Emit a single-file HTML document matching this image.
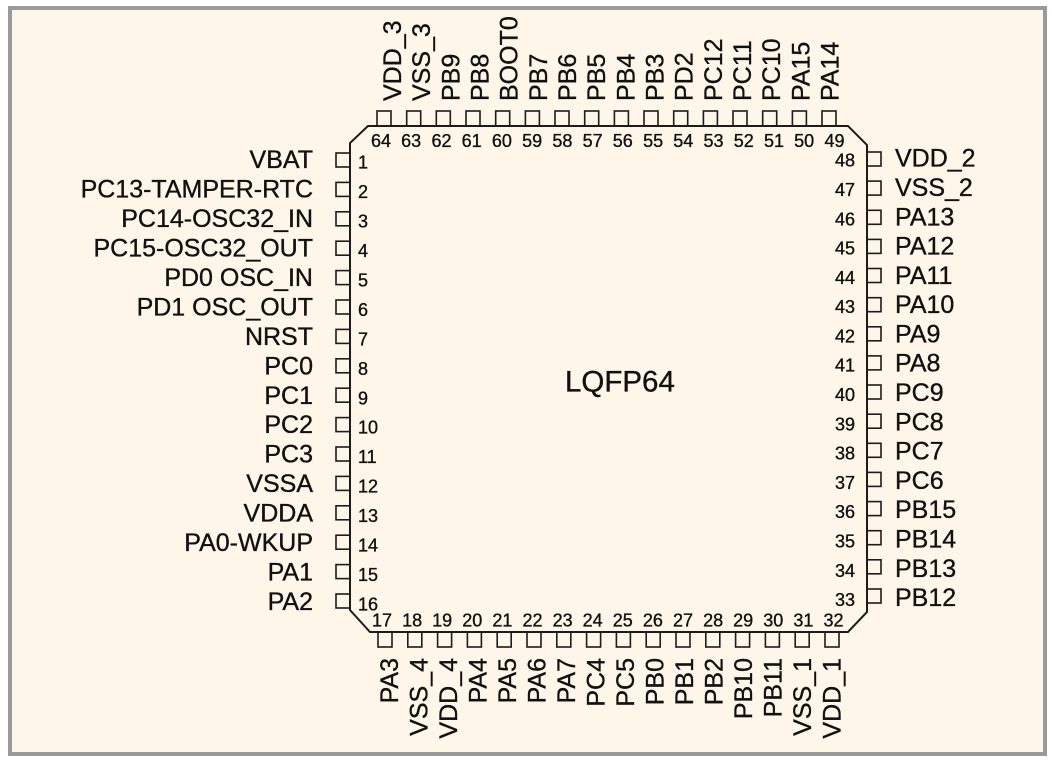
<!DOCTYPE html>
<html><head><meta charset="utf-8"><style>
html,body{margin:0;padding:0;background:#fff;}
svg{display:block;}
text{font-family:"Liberation Sans",Arial,sans-serif;fill:#111;stroke:#111;stroke-width:0.35px;}
.l{font-size:25px;}
.n{font-size:18px;}
</style></head><body>
<svg width="1052" height="764" viewBox="0 0 1052 764" xmlns="http://www.w3.org/2000/svg">
<rect x="0" y="0" width="1052" height="764" fill="#ffffff"/>
<rect x="10" y="8" width="1035" height="746" fill="#fdf6e9" stroke="#9a9a9a" stroke-width="4"/>
<polygon points="368,126 848,126 867,145 867,612 848,632 370,632 350,610 350,143" fill="none" stroke="#1c1c1c" stroke-width="2"/>
<g fill="none" stroke="#1c1c1c" stroke-width="1.6">
<rect x="377" y="111" width="14" height="15"/><rect x="406.7" y="111" width="14" height="15"/><rect x="436.3" y="111" width="14" height="15"/><rect x="466" y="111" width="14" height="15"/><rect x="495.7" y="111" width="14" height="15"/><rect x="525.4" y="111" width="14" height="15"/><rect x="555" y="111" width="14" height="15"/><rect x="584.7" y="111" width="14" height="15"/><rect x="614.4" y="111" width="14" height="15"/><rect x="644" y="111" width="14" height="15"/><rect x="673.7" y="111" width="14" height="15"/><rect x="703.4" y="111" width="14" height="15"/><rect x="733" y="111" width="14" height="15"/><rect x="762.7" y="111" width="14" height="15"/><rect x="792.4" y="111" width="14" height="15"/><rect x="822" y="111" width="14" height="15"/>
<rect x="378" y="632" width="14" height="15"/><rect x="407.8" y="632" width="14" height="15"/><rect x="437.6" y="632" width="14" height="15"/><rect x="467.4" y="632" width="14" height="15"/><rect x="497.2" y="632" width="14" height="15"/><rect x="527" y="632" width="14" height="15"/><rect x="556.8" y="632" width="14" height="15"/><rect x="586.6" y="632" width="14" height="15"/><rect x="616.4" y="632" width="14" height="15"/><rect x="646.2" y="632" width="14" height="15"/><rect x="676" y="632" width="14" height="15"/><rect x="705.8" y="632" width="14" height="15"/><rect x="735.6" y="632" width="14" height="15"/><rect x="765.4" y="632" width="14" height="15"/><rect x="795.2" y="632" width="14" height="15"/><rect x="825" y="632" width="14" height="15"/>
<rect x="336" y="153" width="14" height="14"/><rect x="336" y="182.4" width="14" height="14"/><rect x="336" y="211.8" width="14" height="14"/><rect x="336" y="241.2" width="14" height="14"/><rect x="336" y="270.6" width="14" height="14"/><rect x="336" y="300" width="14" height="14"/><rect x="336" y="329.4" width="14" height="14"/><rect x="336" y="358.8" width="14" height="14"/><rect x="336" y="388.2" width="14" height="14"/><rect x="336" y="417.6" width="14" height="14"/><rect x="336" y="447" width="14" height="14"/><rect x="336" y="476.4" width="14" height="14"/><rect x="336" y="505.8" width="14" height="14"/><rect x="336" y="535.2" width="14" height="14"/><rect x="336" y="564.6" width="14" height="14"/><rect x="336" y="594" width="14" height="14"/>
<rect x="867" y="152" width="14" height="14"/><rect x="867" y="181.1" width="14" height="14"/><rect x="867" y="210.3" width="14" height="14"/><rect x="867" y="239.4" width="14" height="14"/><rect x="867" y="268.5" width="14" height="14"/><rect x="867" y="297.7" width="14" height="14"/><rect x="867" y="326.8" width="14" height="14"/><rect x="867" y="355.9" width="14" height="14"/><rect x="867" y="385" width="14" height="14"/><rect x="867" y="414.2" width="14" height="14"/><rect x="867" y="443.3" width="14" height="14"/><rect x="867" y="472.4" width="14" height="14"/><rect x="867" y="501.6" width="14" height="14"/><rect x="867" y="530.7" width="14" height="14"/><rect x="867" y="559.8" width="14" height="14"/><rect x="867" y="589" width="14" height="14"/>
</g>

<g class="l">
<text transform="translate(401,101) rotate(-90)">VDD_3</text>
<text transform="translate(430.2,101) rotate(-90)">VSS_3</text>
<text transform="translate(459.3,101) rotate(-90)">PB9</text>
<text transform="translate(488.5,101) rotate(-90)">PB8</text>
<text transform="translate(517.7,101) rotate(-90)">BOOT0</text>
<text transform="translate(546.9,101) rotate(-90)">PB7</text>
<text transform="translate(576,101) rotate(-90)">PB6</text>
<text transform="translate(605.2,101) rotate(-90)">PB5</text>
<text transform="translate(634.4,101) rotate(-90)">PB4</text>
<text transform="translate(663.5,101) rotate(-90)">PB3</text>
<text transform="translate(692.7,101) rotate(-90)">PD2</text>
<text transform="translate(721.9,101) rotate(-90)">PC12</text>
<text transform="translate(751,101) rotate(-90)">PC11</text>
<text transform="translate(780.2,101) rotate(-90)">PC10</text>
<text transform="translate(809.4,101) rotate(-90)">PA15</text>
<text transform="translate(838.6,101) rotate(-90)">PA14</text>
</g>
<g class="n" text-anchor="middle">
<text x="381" y="147">64</text><text x="411.2" y="147">63</text><text x="441.5" y="147">62</text><text x="471.7" y="147">61</text><text x="501.9" y="147">60</text><text x="532.2" y="147">59</text><text x="562.4" y="147">58</text><text x="592.6" y="147">57</text><text x="622.8" y="147">56</text><text x="653.1" y="147">55</text><text x="683.3" y="147">54</text><text x="713.5" y="147">53</text><text x="743.8" y="147">52</text><text x="774" y="147">51</text><text x="804.2" y="147">50</text><text x="834.5" y="147">49</text>
</g>

<g class="l" text-anchor="end">
<text transform="translate(398,658) rotate(-90)">PA3</text>
<text transform="translate(427.5,658) rotate(-90)">VSS_4</text>
<text transform="translate(457,658) rotate(-90)">VDD_4</text>
<text transform="translate(486.5,658) rotate(-90)">PA4</text>
<text transform="translate(516,658) rotate(-90)">PA5</text>
<text transform="translate(545.5,658) rotate(-90)">PA6</text>
<text transform="translate(575,658) rotate(-90)">PA7</text>
<text transform="translate(604.5,658) rotate(-90)">PC4</text>
<text transform="translate(634,658) rotate(-90)">PC5</text>
<text transform="translate(663.5,658) rotate(-90)">PB0</text>
<text transform="translate(693,658) rotate(-90)">PB1</text>
<text transform="translate(722.5,658) rotate(-90)">PB2</text>
<text transform="translate(752,658) rotate(-90)">PB10</text>
<text transform="translate(781.5,658) rotate(-90)">PB11</text>
<text transform="translate(811,658) rotate(-90)">VSS_1</text>
<text transform="translate(840.5,658) rotate(-90)">VDD_1</text>
</g>
<g class="n" text-anchor="middle">
<text x="382" y="626.5">17</text><text x="412.1" y="626.5">18</text><text x="442.2" y="626.5">19</text><text x="472.3" y="626.5">20</text><text x="502.4" y="626.5">21</text><text x="532.5" y="626.5">22</text><text x="562.6" y="626.5">23</text><text x="592.7" y="626.5">24</text><text x="622.8" y="626.5">25</text><text x="652.9" y="626.5">26</text><text x="683" y="626.5">27</text><text x="713.1" y="626.5">28</text><text x="743.2" y="626.5">29</text><text x="773.3" y="626.5">30</text><text x="803.4" y="626.5">31</text><text x="833.5" y="626.5">32</text>
</g>

<g class="l" text-anchor="end">
<text x="313" y="168">VBAT</text>
<text x="313" y="197.5">PC13-TAMPER-RTC</text>
<text x="313" y="226.9">PC14-OSC32_IN</text>
<text x="313" y="256.4">PC15-OSC32_OUT</text>
<text x="313" y="285.9">PD0 OSC_IN</text>
<text x="313" y="315.4">PD1 OSC_OUT</text>
<text x="313" y="344.8">NRST</text>
<text x="313" y="374.3">PC0</text>
<text x="313" y="403.8">PC1</text>
<text x="313" y="433.2">PC2</text>
<text x="313" y="462.7">PC3</text>
<text x="313" y="492.2">VSSA</text>
<text x="313" y="521.6">VDDA</text>
<text x="313" y="551.1">PA0-WKUP</text>
<text x="313" y="580.6">PA1</text>
<text x="313" y="610">PA2</text>
</g>
<g class="n">
<text x="358" y="168.5">1</text><text x="358" y="198">2</text><text x="358" y="227.4">3</text><text x="358" y="256.9">4</text><text x="358" y="286.4">5</text><text x="358" y="315.9">6</text><text x="358" y="345.3">7</text><text x="358" y="374.8">8</text><text x="358" y="404.3">9</text><text x="358" y="433.7">10</text><text x="358" y="463.2">11</text><text x="358" y="492.7">12</text><text x="358" y="522.1">13</text><text x="358" y="551.6">14</text><text x="358" y="581.1">15</text><text x="358" y="610.5">16</text>
</g>

<g class="l">
<text x="895" y="166.7">VDD_2</text>
<text x="895" y="196">VSS_2</text>
<text x="895" y="225.3">PA13</text>
<text x="895" y="254.6">PA12</text>
<text x="895" y="283.9">PA11</text>
<text x="895" y="313.2">PA10</text>
<text x="895" y="342.4">PA9</text>
<text x="895" y="371.7">PA8</text>
<text x="895" y="401">PC9</text>
<text x="895" y="430.3">PC8</text>
<text x="895" y="459.6">PC7</text>
<text x="895" y="488.9">PC6</text>
<text x="895" y="518.2">PB15</text>
<text x="895" y="547.5">PB14</text>
<text x="895" y="576.8">PB13</text>
<text x="895" y="606">PB12</text>
</g>
<g class="n" text-anchor="end">
<text x="855" y="166.7">48</text><text x="855" y="196">47</text><text x="855" y="225.3">46</text><text x="855" y="254.6">45</text><text x="855" y="283.9">44</text><text x="855" y="313.2">43</text><text x="855" y="342.4">42</text><text x="855" y="371.7">41</text><text x="855" y="401">40</text><text x="855" y="430.3">39</text><text x="855" y="459.6">38</text><text x="855" y="488.9">37</text><text x="855" y="518.2">36</text><text x="855" y="547.5">35</text><text x="855" y="576.8">34</text><text x="855" y="606">33</text>
</g>

<text x="565" y="391.5" style="font-size:29.5px">LQFP64</text>
</svg>
</body></html>
